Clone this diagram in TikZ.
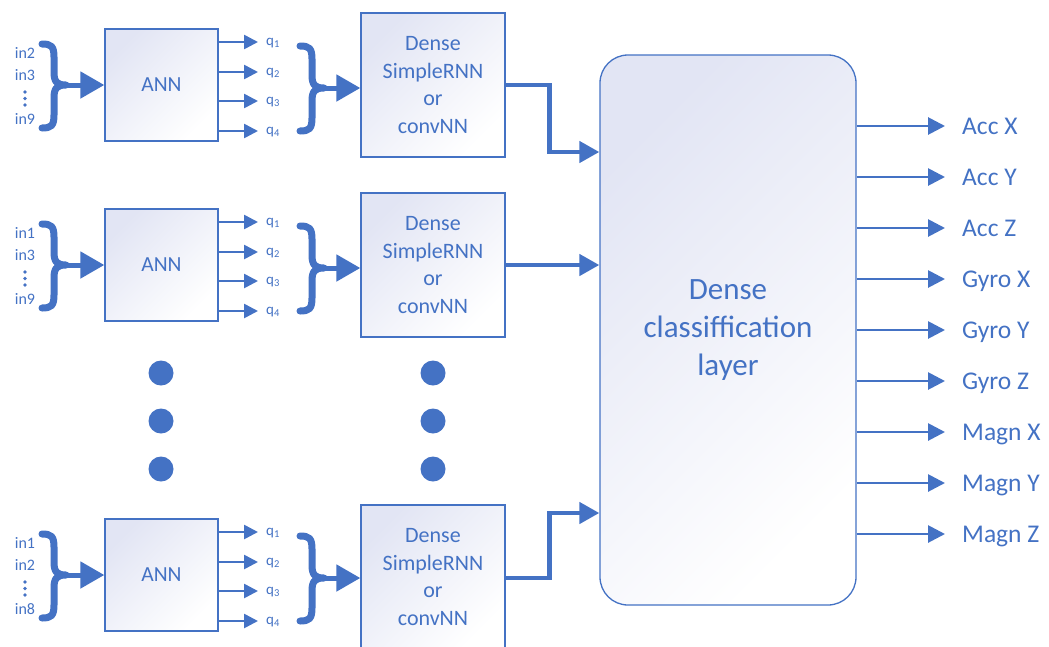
\documentclass[tikz,border=0pt]{standalone}
\usepackage{fontspec}
\setmainfont{Carlito}
\usetikzlibrary{arrows.meta}
\definecolor{cblue}{RGB}{68,114,196}
\definecolor{cshade}{RGB}{226,229,244}

% thick curly brace opening to the right: x-left, x-stem, x-tip, y-top, y-mid, y-bottom, tip name
\newcommand\curlybrace[7]{%
  \draw[bracestyle] (#1,#4) .. controls ({#1+9},#4) and (#2,{#4+2}) .. (#2,{#4+13}) -- (#2,{#5-13})
    .. controls (#2,{#5-3}) and ({#2+3},#5) .. (#3,#5) coordinate (#7)
    .. controls ({#2+3},#5) and (#2,{#5+3}) .. (#2,{#5+13}) -- (#2,{#6-13})
    .. controls (#2,{#6-2}) and ({#1+9},#6) .. (#1,#6);}

% one branch: id, ANN centre y, dense-box centre y, three input labels
\newcommand\netrow[6]{%
  \node[annbox] (#1ann) at (161.5,#2) {ANN};
  \node[inlab] (#1in1) at (25,{#2-32}) {#4};
  \node[inlab] (#1in2) at (25,{#2-10}) {#5};
  \node[inlab] (#1in3) at (25,{#2+34}) {#6};
  \foreach \k in {7,13.5,20} \fill[cblue] (25,{#2+\k}) circle[radius=1.9pt];
  \curlybrace{42}{54}{66}{#2-41}{#2}{#2+43}{#1ta}
  \draw[bigarr] (#1ta) -- (#1ta -| #1ann.west);
  \foreach \n/\dy in {1/-43,2/-13,3/16,4/46} {
    \node[qlab] (#1q\n) at (266,{#2+\dy+3.5}) {q\textsubscript{\n}};
    \draw[qarr] (#1ann.east |- {(0,#2+\dy)}) -- ([xshift=-8pt]#1q\n.base west |- {(0,#2+\dy)});
  }
  \node[densebox] (#1dn) at (433,#3) {Dense\\SimpleRNN\\or\\convNN};
  \curlybrace{300}{312}{324}{#2-39}{#2+3}{#2+46}{#1tb}
  \draw[bigarr] (#1tb) -- (#1tb -| #1dn.west);
}

\begin{document}
\begin{tikzpicture}[x=1pt,y=-1pt,
  annbox/.style={draw=cblue, line width=1.3pt, top color=cshade, bottom color=white,
    shading angle=45, text=cblue, minimum width=113pt, minimum height=112pt,
    inner sep=0pt, font=\fontsize{21.5}{25}\selectfont},
  densebox/.style={draw=cblue, line width=1.3pt, top color=cshade, bottom color=white,
    shading angle=45, text=cblue, minimum width=144pt, minimum height=144pt,
    inner sep=0pt, align=center, font=\fontsize{22}{27.5}\selectfont},
  bigbox/.style={draw=cblue, line width=1.3pt, rounded corners=28pt, top color=cshade,
    bottom color=white, shading angle=45, text=cblue, minimum width=256pt,
    minimum height=550pt, inner sep=0pt, align=center,
    font=\fontsize{31}{38}\selectfont},
  inlab/.style={text=cblue, inner sep=0pt, font=\fontsize{16}{18}\selectfont},
  qlab/.style={text=cblue, inner sep=0pt, anchor=base west, font=\fontsize{15}{16}\selectfont},
  outlab/.style={text=cblue, inner sep=0pt, anchor=base west, font=\fontsize{25.5}{28}\selectfont},
  bracestyle/.style={draw=cblue, line width=7pt, line cap=round, line join=round},
  bigarr/.style={draw=cblue, line width=5pt, -{Triangle[length=24pt,width=26pt]}},
  linkarr/.style={draw=cblue, line width=4.5pt, -{Triangle[length=20pt,width=21pt]}},
  qarr/.style={draw=cblue, line width=2.6pt, -{Triangle[length=14pt,width=14pt]}},
  outarr/.style={draw=cblue, line width=2.8pt, -{Triangle[length=17pt,width=17pt]}}]
\useasboundingbox (0,0) rectangle (1049,646);
\clip (0,0) rectangle (1049,646);

\netrow{a}{85}{85}{in2}{in3}{in9}
\netrow{b}{265}{265}{in1}{in3}{in9}
\netrow{c}{575}{577}{in1}{in2}{in8}

% stacked ellipsis dots between the branches
\foreach \yy [count=\i] in {373,421,469} {
  \fill[cblue] (161,\yy) circle[radius=12.5pt];
  \fill[cblue] (433,\yy) circle[radius=12.5pt];
}

\node[bigbox] (cls) at (728,330) {Dense\\classiffication\\layer};

% links from the branches to the classification layer
\coordinate (ae) at (cls.west |- {(0,152)});
\coordinate (ce) at (cls.west |- {(0,513)});
\draw[linkarr] (adn.east) -- ++(44,0) |- (ae);
\draw[linkarr] (bdn.east) -- (bdn.east -| cls.west);
\draw[linkarr] ([yshift=-1pt]cdn.east) -- ++(44,0) |- (ce);

% outputs
\foreach \lab [count=\i] in {Acc X,Acc Y,Acc Z,Gyro X,Gyro Y,Gyro Z,Magn X,Magn Y,Magn Z} {
  \node[outlab] (o\i) at (962,{126+51*(\i-1)+8}) {\lab};
  \draw[outarr] (cls.east |- {(0,126+51*(\i-1))}) -- (945,{126+51*(\i-1)});
}
\end{tikzpicture}
\end{document}
